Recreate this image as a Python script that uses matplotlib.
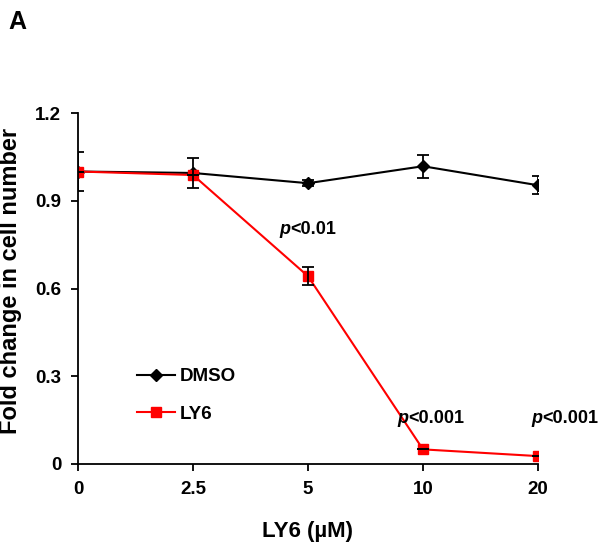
import matplotlib
matplotlib.use("Agg")
import matplotlib.pyplot as plt
import numpy as np

plt.rcParams['font.family'] = ['Liberation Sans', 'DejaVu Sans']
plt.rcParams['font.weight'] = 'bold'

doses = ["0", "2.5", "5", "10", "20"]
dmso = [1.0, 0.995, 0.96, 1.018, 0.953]
dmso_err = [0.067, 0.05, 0.01, 0.04, 0.03]
ly6 = [1.0, 0.988, 0.642, 0.05, 0.027]
ly6_err = [0.0, 0.0, 0.03, 0.0, 0.0]
y_ticks = [0, 0.3, 0.6, 0.9, 1.2]
y_tick_labels = ["0", "0.3", "0.6", "0.9", "1.2"]
pvals = ["p<0.01", "p<0.001", "p<0.001"]
pval_x = [1.754, 2.78, 3.945]
pval_y = [0.803, 0.154, 0.154]

W, H = 600, 545
fig = plt.figure(figsize=(W / 100, H / 100), dpi=100)
ax = fig.add_axes([78 / W, (H - 464) / H, (538 - 78) / W, (464 - 113) / H])

x = np.arange(len(doses))
ax.plot(x, dmso, color='black', lw=1.5, marker='D', ms=6.5, zorder=2, label='DMSO')
ax.plot(x, ly6, color='#ff0000', lw=1.5, marker='s', ms=6.8, zorder=3, label='LY6')
ax.errorbar(x, dmso, yerr=dmso_err, fmt='none', ecolor='black', elinewidth=1.3,
            capsize=4.5, capthick=1.3, zorder=4)
ax.errorbar(x, ly6, yerr=ly6_err, fmt='none', ecolor='black', elinewidth=1.3,
            capsize=4.5, capthick=1.3, zorder=4)

ax.set_xlim(0, len(doses) - 1)
ax.set_ylim(0, 1.2)
ax.set_xticks(x)
ax.set_xticklabels(doses)
ax.set_yticks(y_ticks)
ax.set_yticklabels(y_tick_labels)
for s in ['top', 'right']:
    ax.spines[s].set_visible(False)
for s in ['left', 'bottom']:
    ax.spines[s].set_linewidth(1.3)
ax.tick_params(axis='both', direction='out', length=5, width=1.3, labelsize=13.5)
ax.tick_params(axis='y', pad=7)
ax.tick_params(axis='x', pad=7)
for lab in ax.get_xticklabels() + ax.get_yticklabels():
    lab.set_fontweight('bold')

leg = ax.legend(loc='upper left', bbox_to_anchor=((137 - 78) / 460, 1 - (368 - 113) / 351),
                frameon=False, fontsize=13.5, handlelength=2.0, handletextpad=0.3,
                borderpad=0, borderaxespad=0, labelspacing=1.1)
for t in leg.get_texts():
    t.set_fontweight('bold')

for txt, px, py in zip(pvals, pval_x, pval_y):
    t = ax.text(px, py, txt[0], style='italic', fontweight='bold', fontsize=13,
                ha='left', va='center', clip_on=False)
    fig.canvas.draw()
    bb = t.get_window_extent()
    x1 = ax.transData.inverted().transform((bb.x1, 0))[0]
    ax.text(x1, py, txt[1:], fontweight='bold', fontsize=13, ha='left', va='center',
            clip_on=False)

fig.text(11 / W, 1 - 281 / H, "Fold change in cell number", rotation=90, fontsize=17,
         fontweight='bold', ha='center', va='center')
fig.text(308 / W, 1 - 531 / H, "LY6 (µM)", fontsize=16, fontweight='bold',
         ha='center', va='center')
fig.text(8 / W, 1 - 22 / H, "A", fontsize=18, fontweight='bold', ha='left', va='center')

fig.savefig("out.png", dpi=100)
